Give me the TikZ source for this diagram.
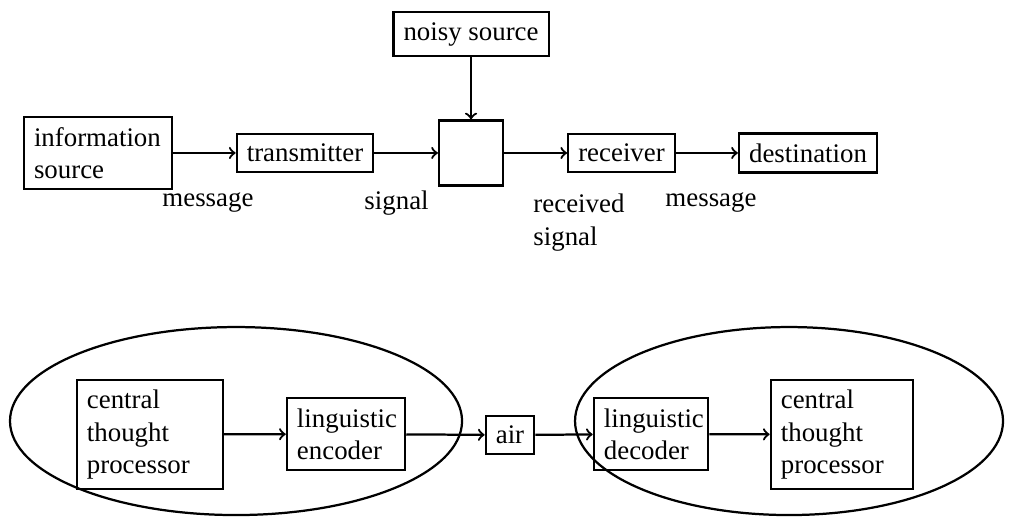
\documentclass[tikz,border=0pt]{standalone}
\usepackage{fontspec}
\setmainfont{Liberation Serif}
\usetikzlibrary{arrows,shapes.geometric}

\tikzset{
	box/.style={draw, line width=1pt, inner sep=4.5pt},
	multibox/.style={box, align=left},
	lbl/.style={inner sep=0pt, align=left},
	link/.style={->, line width=1pt}
}

\begin{document}
\begin{tikzpicture}[>=to, font=\fontsize{12}{14.5}\selectfont]
		%\draw [help lines] (0,0) grid (16,8);
		\useasboundingbox (0,0) rectangle (16,8.118);
		
		% upper channel
		\node [multibox, text width=2.01cm, minimum height=1.07cm] (info) at (1.539,5.716) {information\\source};
		\node [box] (trans) at (4.789,5.716) {transmitter};
		\node [box, minimum width=1.005cm, minimum height=1.02cm] (chan) at (7.396,5.716) {};
		\node [box] (noisy) at (7.396,7.584) {noisy source};
		\node [box] (recv) at (9.759,5.716) {receiver};
		\node [box] (dest) at (12.687,5.716) {destination};
		
		\draw [link] (info) -- (trans);
		\draw [link] (trans) -- (chan);
		\draw [link] (noisy) -- (chan);
		\draw [link] (chan) -- (recv);
		\draw [link] (recv) -- (dest);
		
		\node [lbl, anchor=base west] (msgA) at (2.544,4.868) {message};
		\node [lbl, anchor=base west] (sig) at (5.716,4.821) {signal};
		\node [lbl, anchor=base west] (rsig) at (8.369,4.271) {received\\signal};
		\node [lbl, anchor=base west] (msgB) at (10.442,4.868) {message};
		
		% lower chain
		\draw [line width=1pt] (3.706,1.507) ellipse (3.549cm and 1.476cm);
		\draw [line width=1pt] (12.389,1.507) ellipse (3.360cm and 1.476cm);
		
		\node [multibox, text width=1.98cm, minimum height=1.65cm] (ctpA) at (2.355,1.295) {central\\thought\\processor};
		\node [multibox, text width=1.54cm, minimum height=1.07cm] (enc) at (5.433,1.303) {linguistic\\encoder};
		\node [box] (air) at (8.008,1.288) {air};
		\node [multibox, text width=1.48cm, minimum height=1.07cm] (dec) at (10.222,1.303) {linguistic\\decoder};
		\node [multibox, text width=1.92cm, minimum height=1.65cm] (ctpB) at (13.221,1.295) {central\\thought\\processor};
		
		\draw [link] (ctpA) -- (enc);
		\draw [link] (enc) -- (air);
		\draw [link] (air) -- (dec);
		\draw [link] (dec) -- (ctpB);
	\end{tikzpicture}
\end{document}
